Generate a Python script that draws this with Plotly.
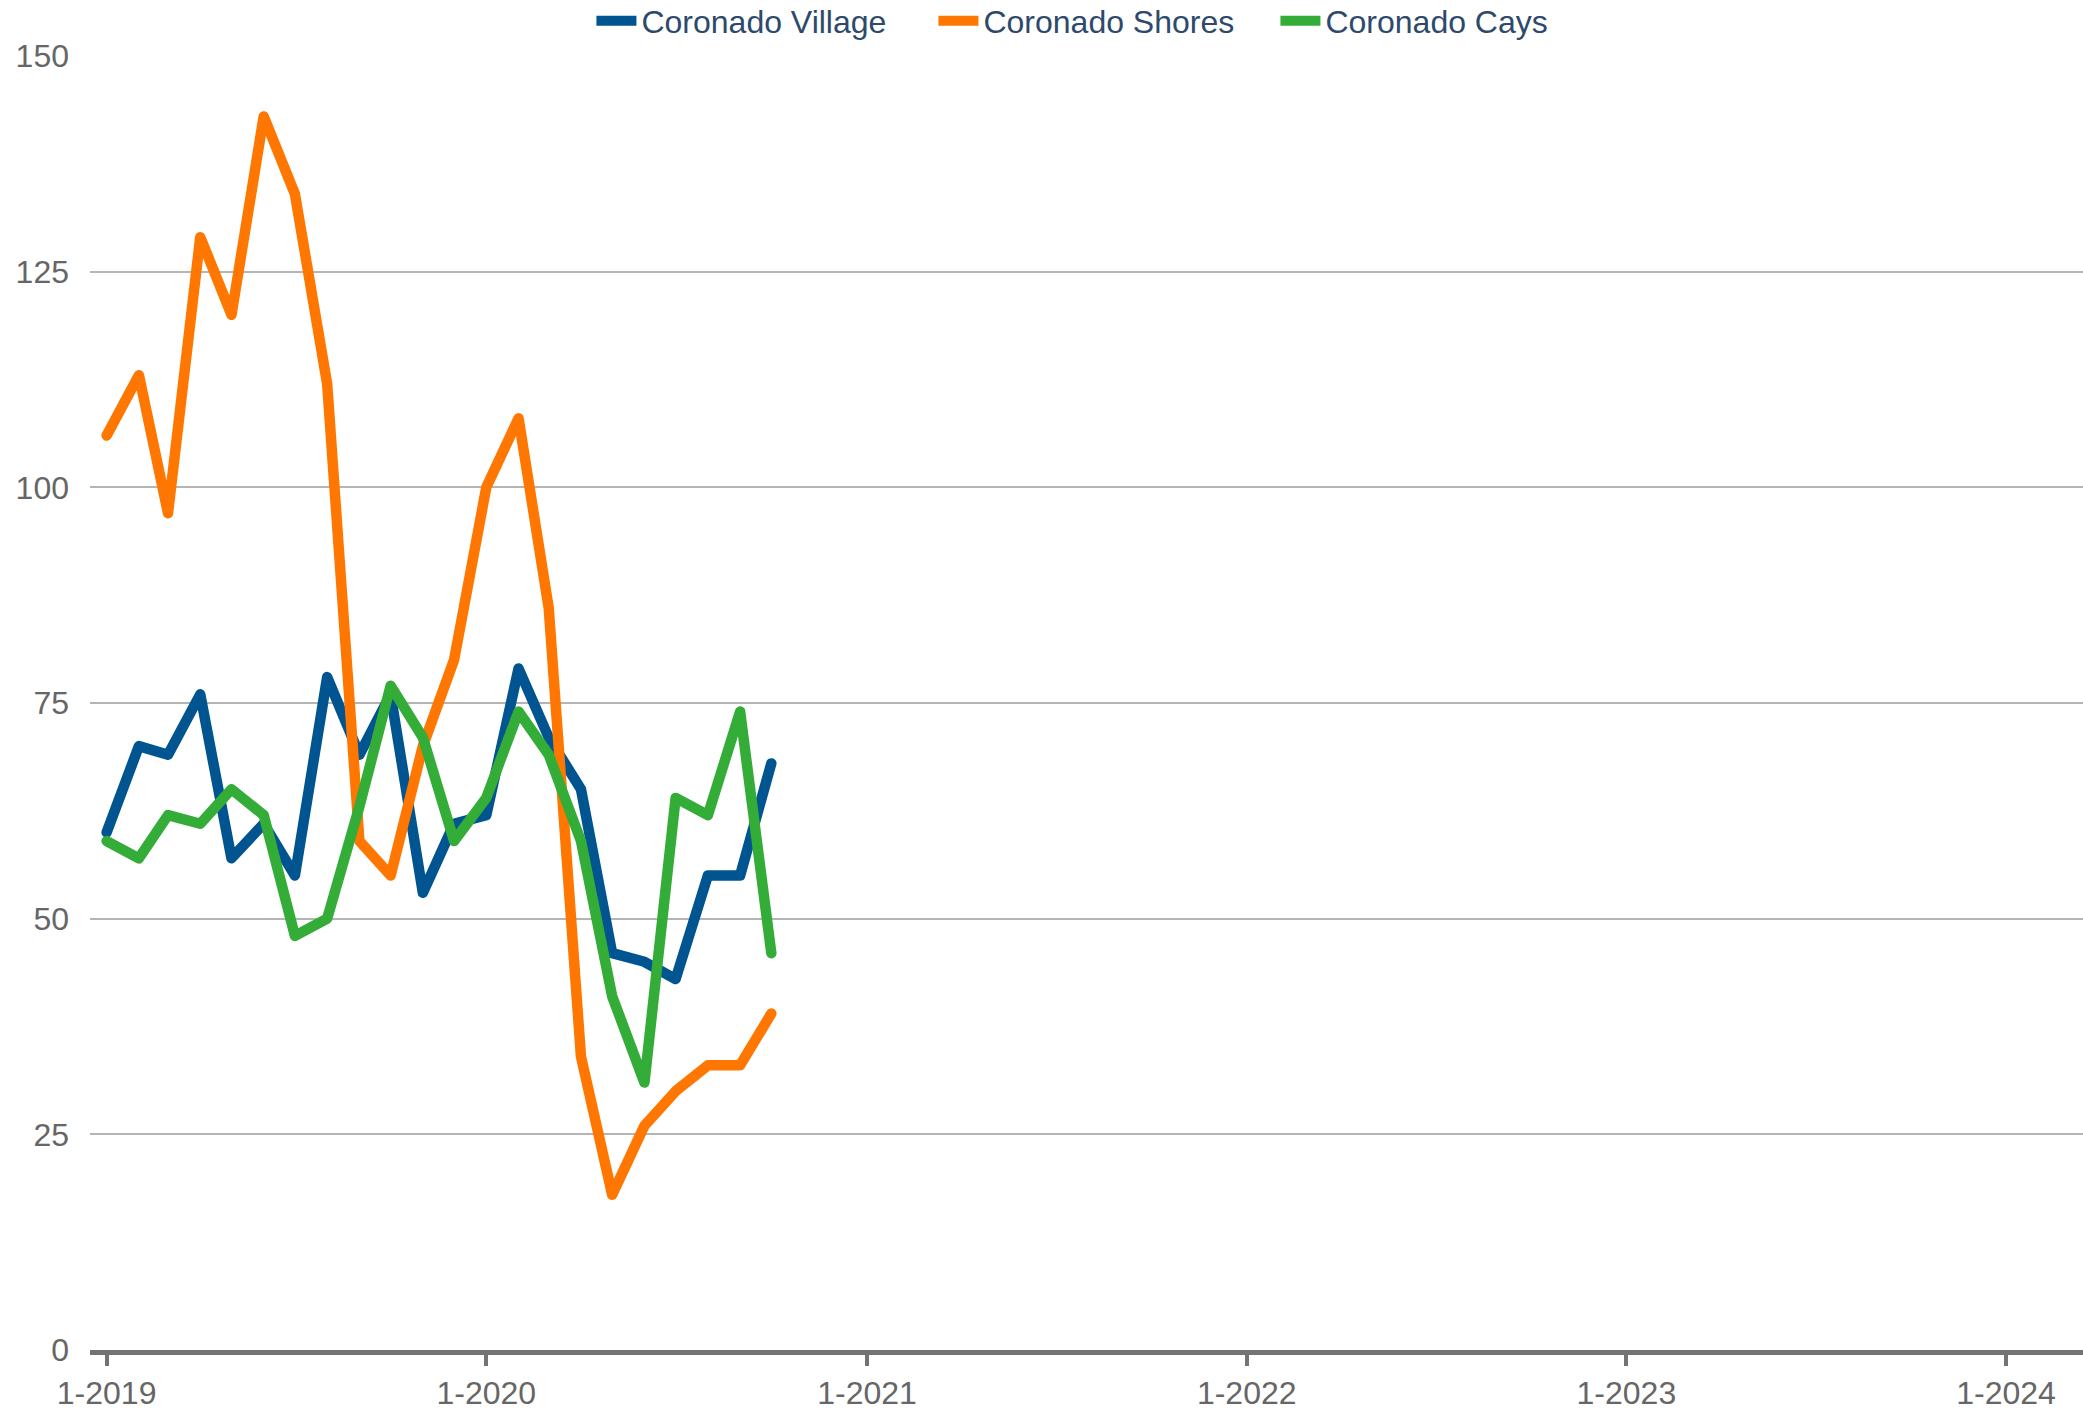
import plotly.graph_objects as go

months = ["2019-01-01", "2019-02-01", "2019-03-01", "2019-04-01", "2019-05-01", "2019-06-01",
          "2019-07-01", "2019-08-01", "2019-09-01", "2019-10-01", "2019-11-01", "2019-12-01",
          "2020-01-01", "2020-02-01", "2020-03-01", "2020-04-01", "2020-05-01", "2020-06-01",
          "2020-07-01", "2020-08-01", "2020-09-01", "2020-10-01"]

village = [60, 70, 69, 76, 57, 61, 55, 78, 69, 76, 53, 61, 62, 79, 71, 65, 46, 45, 43, 55, 55, 68]
shores = [106, 113, 97, 129, 120, 143, 134, 112, 59, 55, 70, 80, 100, 108, 86, 34, 18, 26, 30, 33, 33, 39]
cays = [59, 57, 62, 61, 65, 62, 48, 50, 63, 77, 71, 59, 64, 74, 69, 59, 41, 31, 64, 62, 74, 46]

series_names = ["Coronado Village", "Coronado Shores", "Coronado Cays"]
series_colors = ["#00548f", "#ff7700", "#33ad38"]

x_tick_vals = ["2019-01-01", "2020-01-01", "2021-01-01", "2022-01-01", "2023-01-01", "2024-01-01"]
x_tick_text = ["1-2019", "1-2020", "1-2021", "1-2022", "1-2023", "1-2024"]
y_tick_vals = [0, 25, 50, 75, 100, 125, 150]

fig = go.Figure()
for name, vals, col in zip(series_names, [village, shores, cays], series_colors):
    fig.add_trace(go.Scatter(x=months, y=vals, name=name, mode="lines",
                             line=dict(color=col, width=10.5)))

fig.update_layout(
    width=2083, height=1410,
    margin=dict(l=90, r=0, t=56, b=60, autoexpand=False),
    paper_bgcolor="white", plot_bgcolor="white",
    font=dict(family="Liberation Sans, Arial, sans-serif", size=32, color="#666666"),
    showlegend=True,
    hovermode=False,
    legend=dict(orientation="h", x=0.509, xanchor="center", y=1.027, yanchor="middle",
                font=dict(size=32, color="#2d4a6c"), itemwidth=40,
                entrywidth=287, entrywidthmode="pixels",
                bgcolor="rgba(0,0,0,0)", tracegroupgap=0),
    xaxis=dict(type="date", range=["2018-12-16", "2024-03-15"],
               tickvals=x_tick_vals, ticktext=x_tick_text,
               showgrid=False, zeroline=False,
               showline=True, linecolor="#737373", linewidth=5,
               ticks="outside", ticklen=11, tickwidth=4, tickcolor="#737373",
               tickfont=dict(size=32, color="#666666"), automargin=False),
    yaxis=dict(range=[0, 150], tickvals=y_tick_vals,
               showgrid=True, gridcolor="#b5b5b5", gridwidth=2,
               zeroline=False, showline=False, ticks="",
               ticklabelstandoff=20,
               tickfont=dict(size=32, color="#666666"), automargin=False),
)

post = """
document.body.style.margin = '0';
document.body.style.overflow = 'hidden';
document.querySelectorAll('.scatterlayer path.js-line').forEach(function(p){
  p.style.strokeLinejoin = 'round';
  p.style.strokeLinecap = 'round';
});
"""

fig.write_html("out.html", post_script=post, config={"displayModeBar": False, "staticPlot": False})
